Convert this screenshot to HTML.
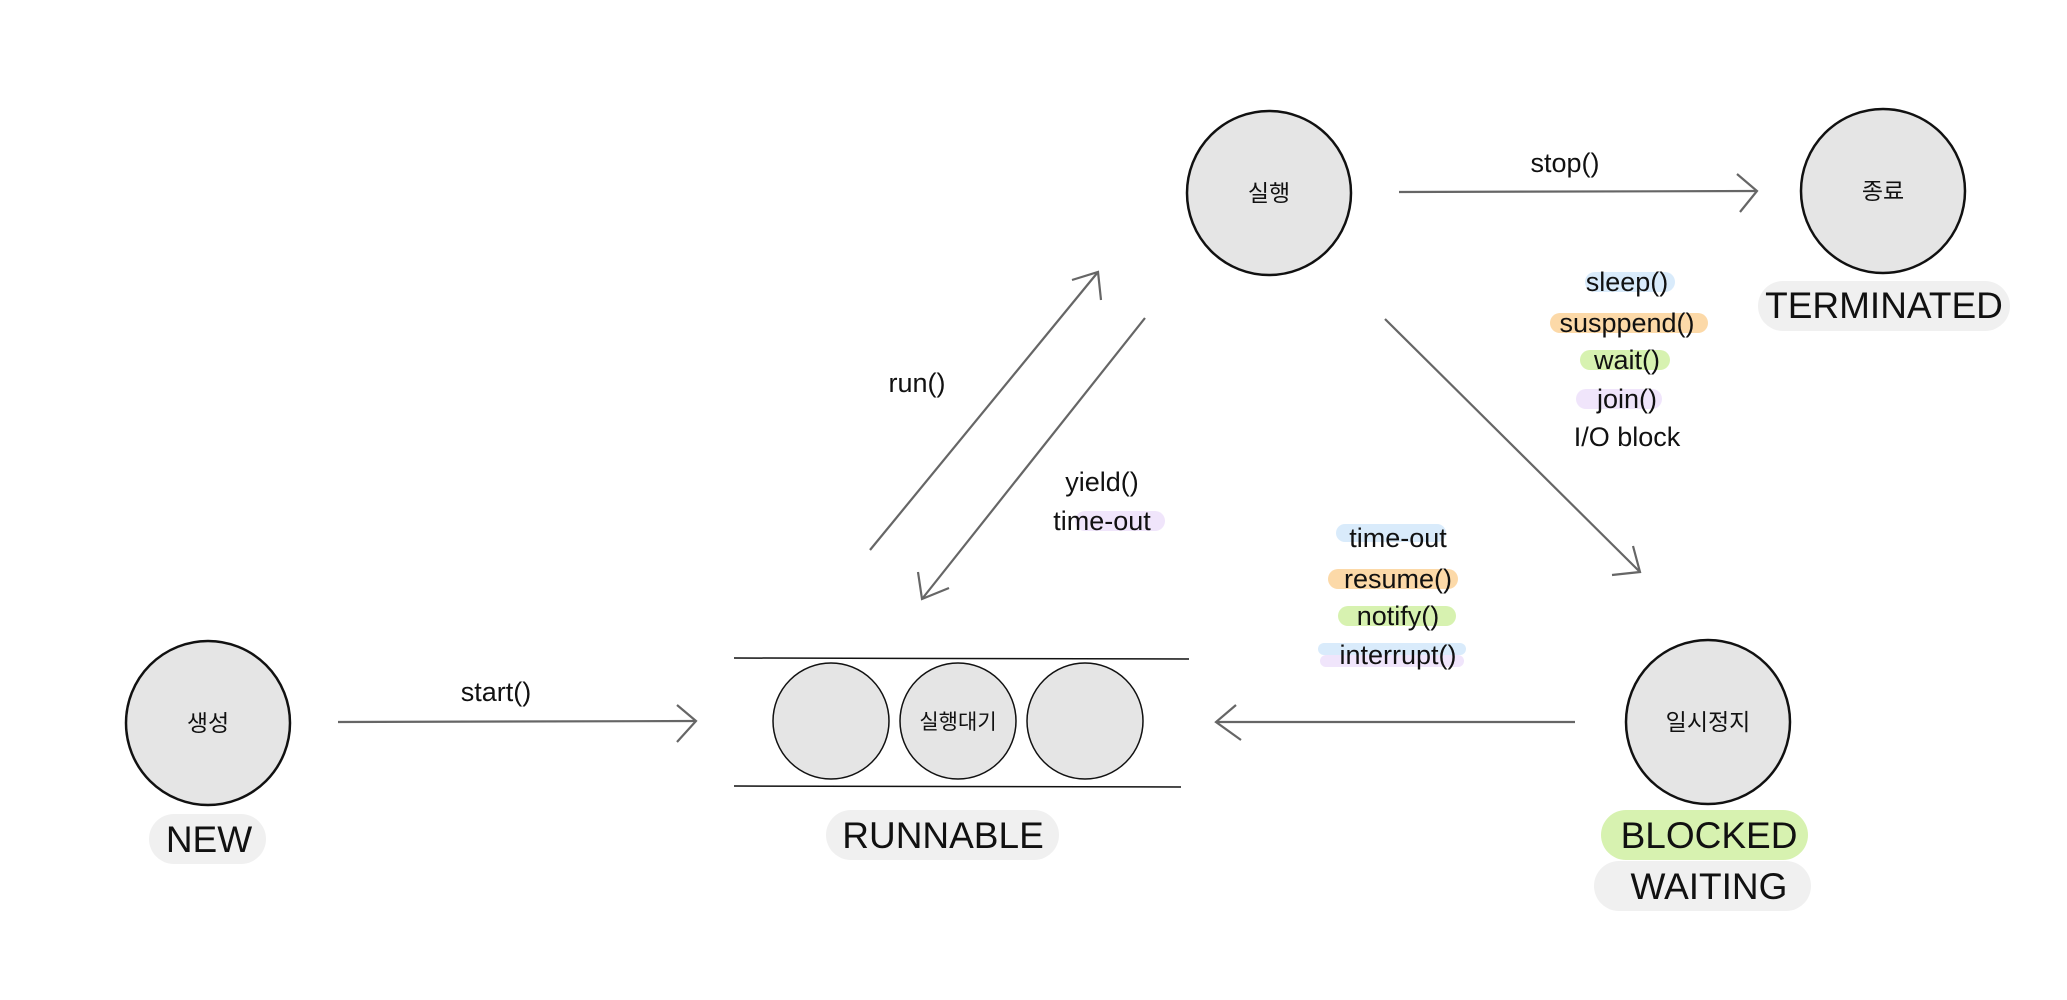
<!DOCTYPE html>
<html><head><meta charset="utf-8"><style>
body{margin:0;background:#fff}
svg{display:block}
text{font-family:"Liberation Sans","Noto Sans CJK KR",sans-serif;fill:#111}
</style></head><body>
<svg width="2067" height="1000" viewBox="0 0 2067 1000" xmlns="http://www.w3.org/2000/svg">
<g fill="none" stroke="#666" stroke-width="2.2">
<line x1="338" y1="722" x2="696" y2="721"/><polyline points="677,705 696,721 677,742"/>
<line x1="870" y1="550" x2="1098" y2="272"/><polyline points="1072,280 1098,272 1101,300"/>
<line x1="1145" y1="318" x2="922" y2="599"/><polyline points="918,572 922,599 949,588"/>
<line x1="1399" y1="192" x2="1757" y2="191"/><polyline points="1737,174 1757,191 1740,212"/>
<line x1="1385" y1="319" x2="1640" y2="572"/><polyline points="1633,546 1640,572 1612,575"/>
<line x1="1575" y1="722" x2="1216" y2="722"/><polyline points="1236,705 1216,722 1241,740"/>
</g>
<g stroke="#111" stroke-width="1.5">
<line x1="734" y1="658" x2="1189" y2="659"/><line x1="734" y1="786" x2="1181" y2="787"/>
</g>
<g fill="#e5e5e5" stroke="#111" stroke-width="2.5">
<circle cx="208" cy="723" r="82"/><circle cx="1269" cy="193" r="82"/>
<circle cx="1883" cy="191" r="82"/><circle cx="1708" cy="722" r="82"/>
</g>
<g fill="#e5e5e5" stroke="#111" stroke-width="1.5">
<circle cx="831" cy="721" r="58"/><circle cx="958" cy="721" r="58"/><circle cx="1085" cy="721" r="58"/>
</g>
<g fill="#f0f0f0">
<rect x="149" y="814" width="117" height="50" rx="25"/>
<rect x="826" y="810" width="233" height="50" rx="25"/>
<rect x="1758" y="281" width="252" height="50" rx="25"/>
<rect x="1594" y="861" width="217" height="50" rx="25"/>
</g>
<rect x="1601" y="810" width="207" height="50" rx="25" fill="#d7f2b0"/>
<!-- highlights -->
<g>
<rect x="1585" y="272" width="90" height="20" rx="10" fill="#d9ebfb"/>
<rect x="1550" y="313" width="158" height="20" rx="10" fill="#fcd9a8"/>
<rect x="1580" y="350" width="90" height="20" rx="10" fill="#d7f2b0"/>
<rect x="1576" y="389" width="86" height="20" rx="10" fill="#f0e5fb"/>
<rect x="1336" y="524" width="110" height="18" rx="9" fill="#d9ebfb"/>
<rect x="1328" y="569" width="130" height="20" rx="10" fill="#fcd9a8"/>
<rect x="1338" y="606" width="118" height="20" rx="10" fill="#d7f2b0"/>
<rect x="1318" y="643" width="148" height="12" rx="6" fill="#d9ebfb"/>
<rect x="1320" y="655" width="144" height="12" rx="6" fill="#f0e5fb"/>
<rect x="1075" y="511" width="90" height="20" rx="10" fill="#f0e5fb"/>
</g>
<g font-size="27" text-anchor="middle">
<text x="496" y="701">start()</text>
<text x="917" y="392">run()</text>
<text x="1102" y="491">yield()</text>
<text x="1102" y="530">time-out</text>
<text x="1565" y="172">stop()</text>
<text x="1627" y="291">sleep()</text>
<text x="1627" y="332">susppend()</text>
<text x="1627" y="369">wait()</text>
<text x="1627" y="408">join()</text>
<text x="1627" y="446">I/O block</text>
<text x="1398" y="547">time-out</text>
<text x="1398" y="588">resume()</text>
<text x="1398" y="625">notify()</text>
<text x="1398" y="664">interrupt()</text>
</g>
<g font-size="23" text-anchor="middle">
<text x="208" y="731">생성</text>
<text x="1269" y="201">실행</text>
<text x="1883" y="199">종료</text>
<text x="1708" y="730">일시정지</text>
<text x="958" y="729" font-size="21">실행대기</text>
</g>
<g font-size="37" text-anchor="middle">
<text x="209" y="852">NEW</text>
<text x="943" y="848">RUNNABLE</text>
<text x="1884" y="318">TERMINATED</text>
<text x="1709" y="848">BLOCKED</text>
<text x="1709" y="899">WAITING</text>
</g>
</svg>
</body></html>
